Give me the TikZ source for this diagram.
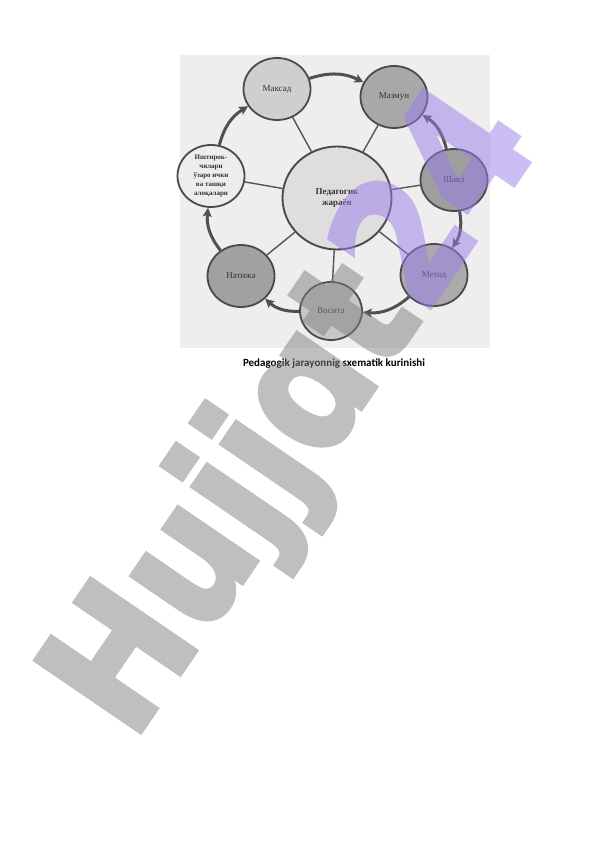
\documentclass[tikz,border=0pt]{standalone}
\usepackage{fontspec}
\setmainfont{Liberation Serif}
\newfontfamily\capfont{Carlito}
\newfontfamily\wmfont[FakeBold=2.5,FakeStretch=0.86]{DejaVu Sans}
\usetikzlibrary{arrows.meta,shapes.geometric}
\definecolor{bgscan}{HTML}{EEEEEE}
\definecolor{rimc}{HTML}{4A4A4A}
\definecolor{spokec}{HTML}{555555}
\definecolor{arrc}{HTML}{505050}
\definecolor{labc}{HTML}{333333}
\definecolor{wmgray}{HTML}{808080}
\definecolor{wmpurple}{HTML}{9A7CEC}
\begin{document}
\begin{tikzpicture}[x=1pt,y=1pt,
  outer/.style={ellipse, draw=rimc, line width=1.8pt, minimum width=67pt,
    minimum height=62pt, inner sep=0pt, text=labc,
    font=\fontsize{9}{10}\selectfont},
  spoke/.style={draw=spokec, line width=1.4pt},
  cyc/.style={draw=arrc, line width=3pt,
    -{Stealth[length=9pt,width=9pt,inset=2pt]}}]
\useasboundingbox (0,0) rectangle (596,-842);
\fill[bgscan] (180,-55) rectangle (490,-348);
% nodes
\node[ellipse, draw=rimc, line width=1.9pt, minimum width=109pt, minimum height=103pt,
  fill=black!13, text=labc, align=center, font=\fontsize{9}{11}\selectfont\bfseries]
  (c) at (337,-198) {Педагогик\\жараён};
\node[outer, fill=black!19] (mq) at (277,-89) {Максад};
\node[outer, fill=black!34] (mz) at (394,-97) {Мазмун};
\node[outer, fill=black!38] (sh) at (454,-180) {Шакл};
\node[outer, fill=black!33] (me) at (434,-275) {Метод};
\node[outer, fill=black!22, minimum width=62pt, minimum height=58pt] (vo) at (331,-311) {Восита};
\node[outer, fill=black!37] (na) at (241,-276) {Натижа};
\node[outer, fill=black!7, align=center, font=\fontsize{7}{9}\selectfont\bfseries]
  (ia) at (211,-176) {Иштирок-\\чилари\\ўзаро ички\\ва ташқи\\алоқалари};
% spokes
\foreach \n in {mq,mz,sh,me,vo,na,ia} \draw[spoke] (c) -- (\n);
% cycle arrows
\draw[cyc] (mq) to[bend left=22] (mz);
\draw[cyc] (sh) to[bend right=22] (mz);
\draw[cyc] (sh) to[bend left=22] (me);
\draw[cyc] (me) to[bend left=22] (vo);
\draw[cyc] (vo) to[bend left=22] (na);
\draw[cyc] (na) to[bend left=22] (ia);
\draw[cyc] (ia) to[bend left=22] (mq);
% caption
\node[font=\capfont\bfseries\fontsize{11}{13}\selectfont] (cap) at (334,-364)
  {Pedagogik jarayonnig sxematik kurinishi};
% watermark
\begin{scope}[transparency group, opacity=0.5]
\node[rotate=55.7, inner sep=0pt,
  font=\wmfont\bfseries\fontsize{175}{175}\selectfont] (wm) at (298,-417)
  {\textcolor{wmgray}{Hujj\symbol{"0251}t}\textcolor{wmpurple}{24}};
\end{scope}
\end{tikzpicture}
\end{document}
